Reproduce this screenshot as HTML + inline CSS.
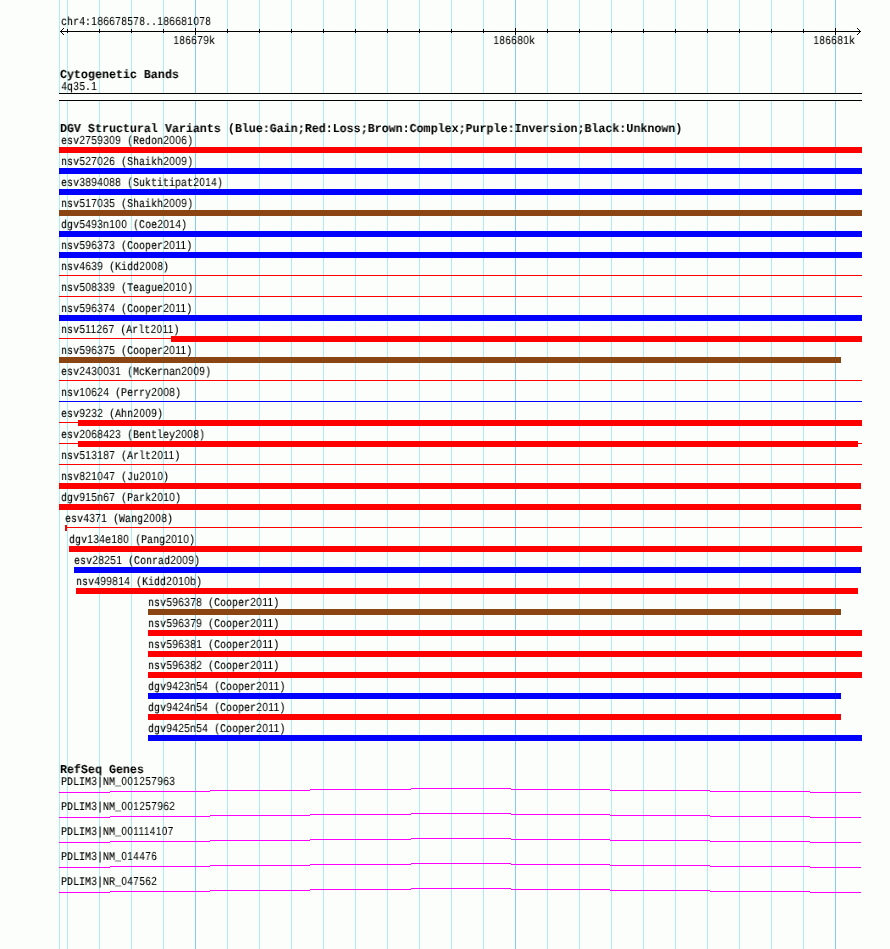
<!DOCTYPE html>
<html lang="en"><head><meta charset="utf-8"><title>chr4:186678578..186681078</title>
<style>
html,body{margin:0;padding:0;background:#fcfefb;}
body{width:890px;height:949px;position:relative;overflow:hidden;font-family:"Liberation Mono",monospace;}
.r{position:absolute}
.x{position:absolute;white-space:pre;color:#000;transform-origin:0 0;font-style:normal;text-rendering:geometricPrecision;will-change:transform}
.s{font-weight:normal;font-size:11.8px;line-height:14px;margin-top:-2px;transform:scaleX(.8475);-webkit-text-stroke:.15px #000}
.s span{text-decoration:none;font-family:"Liberation Sans",sans-serif;font-size:11.63px;letter-spacing:.612px;margin-left:.4px;margin-right:-.4px;-webkit-text-stroke:.08px #000}
.t{font-weight:bold;font-size:12.14px;line-height:14px;margin-top:-2px;transform:scaleX(.961);-webkit-text-stroke:.04px #000}
</style></head>
<body>
<div class="r" style="left:59px;top:0px;width:1px;height:949px;background:#afeeee"></div>
<div class="r" style="left:67px;top:0px;width:1px;height:949px;background:#afeeee"></div>
<div class="r" style="left:99px;top:0px;width:1px;height:949px;background:#afeeee"></div>
<div class="r" style="left:131px;top:0px;width:1px;height:949px;background:#afeeee"></div>
<div class="r" style="left:163px;top:0px;width:1px;height:949px;background:#afeeee"></div>
<div class="r" style="left:195px;top:0px;width:1px;height:949px;background:#87ceeb"></div>
<div class="r" style="left:227px;top:0px;width:1px;height:949px;background:#afeeee"></div>
<div class="r" style="left:259px;top:0px;width:1px;height:949px;background:#afeeee"></div>
<div class="r" style="left:291px;top:0px;width:1px;height:949px;background:#afeeee"></div>
<div class="r" style="left:323px;top:0px;width:1px;height:949px;background:#afeeee"></div>
<div class="r" style="left:355px;top:0px;width:1px;height:949px;background:#afeeee"></div>
<div class="r" style="left:387px;top:0px;width:1px;height:949px;background:#afeeee"></div>
<div class="r" style="left:419px;top:0px;width:1px;height:949px;background:#afeeee"></div>
<div class="r" style="left:451px;top:0px;width:1px;height:949px;background:#afeeee"></div>
<div class="r" style="left:483px;top:0px;width:1px;height:949px;background:#afeeee"></div>
<div class="r" style="left:515px;top:0px;width:1px;height:949px;background:#87ceeb"></div>
<div class="r" style="left:547px;top:0px;width:1px;height:949px;background:#afeeee"></div>
<div class="r" style="left:579px;top:0px;width:1px;height:949px;background:#afeeee"></div>
<div class="r" style="left:611px;top:0px;width:1px;height:949px;background:#afeeee"></div>
<div class="r" style="left:643px;top:0px;width:1px;height:949px;background:#afeeee"></div>
<div class="r" style="left:675px;top:0px;width:1px;height:949px;background:#afeeee"></div>
<div class="r" style="left:707px;top:0px;width:1px;height:949px;background:#afeeee"></div>
<div class="r" style="left:739px;top:0px;width:1px;height:949px;background:#afeeee"></div>
<div class="r" style="left:771px;top:0px;width:1px;height:949px;background:#afeeee"></div>
<div class="r" style="left:803px;top:0px;width:1px;height:949px;background:#afeeee"></div>
<div class="r" style="left:835px;top:0px;width:1px;height:949px;background:#87ceeb"></div>
<div class="r" style="left:60px;top:31px;width:801px;height:1px;background:#000"></div>
<div class="r" style="left:67px;top:29px;width:1px;height:4px;background:#000"></div>
<div class="r" style="left:99px;top:29px;width:1px;height:4px;background:#000"></div>
<div class="r" style="left:131px;top:29px;width:1px;height:4px;background:#000"></div>
<div class="r" style="left:163px;top:29px;width:1px;height:4px;background:#000"></div>
<div class="r" style="left:195px;top:28px;width:1px;height:7px;background:#000"></div>
<div class="r" style="left:227px;top:29px;width:1px;height:4px;background:#000"></div>
<div class="r" style="left:259px;top:29px;width:1px;height:4px;background:#000"></div>
<div class="r" style="left:291px;top:29px;width:1px;height:4px;background:#000"></div>
<div class="r" style="left:323px;top:29px;width:1px;height:4px;background:#000"></div>
<div class="r" style="left:355px;top:29px;width:1px;height:4px;background:#000"></div>
<div class="r" style="left:387px;top:29px;width:1px;height:4px;background:#000"></div>
<div class="r" style="left:419px;top:29px;width:1px;height:4px;background:#000"></div>
<div class="r" style="left:451px;top:29px;width:1px;height:4px;background:#000"></div>
<div class="r" style="left:483px;top:29px;width:1px;height:4px;background:#000"></div>
<div class="r" style="left:515px;top:28px;width:1px;height:7px;background:#000"></div>
<div class="r" style="left:547px;top:29px;width:1px;height:4px;background:#000"></div>
<div class="r" style="left:579px;top:29px;width:1px;height:4px;background:#000"></div>
<div class="r" style="left:611px;top:29px;width:1px;height:4px;background:#000"></div>
<div class="r" style="left:643px;top:29px;width:1px;height:4px;background:#000"></div>
<div class="r" style="left:675px;top:29px;width:1px;height:4px;background:#000"></div>
<div class="r" style="left:707px;top:29px;width:1px;height:4px;background:#000"></div>
<div class="r" style="left:739px;top:29px;width:1px;height:4px;background:#000"></div>
<div class="r" style="left:771px;top:29px;width:1px;height:4px;background:#000"></div>
<div class="r" style="left:803px;top:29px;width:1px;height:4px;background:#000"></div>
<div class="r" style="left:835px;top:28px;width:1px;height:7px;background:#000"></div>
<div class="r" style="left:61px;top:30px;width:1px;height:1px;background:#000"></div>
<div class="r" style="left:61px;top:32px;width:1px;height:1px;background:#000"></div>
<div class="r" style="left:859px;top:30px;width:1px;height:1px;background:#000"></div>
<div class="r" style="left:859px;top:32px;width:1px;height:1px;background:#000"></div>
<div class="r" style="left:62px;top:29px;width:1px;height:1px;background:#000"></div>
<div class="r" style="left:62px;top:33px;width:1px;height:1px;background:#000"></div>
<div class="r" style="left:858px;top:29px;width:1px;height:1px;background:#000"></div>
<div class="r" style="left:858px;top:33px;width:1px;height:1px;background:#000"></div>
<div class="r" style="left:63px;top:28px;width:1px;height:1px;background:#000"></div>
<div class="r" style="left:63px;top:34px;width:1px;height:1px;background:#000"></div>
<div class="r" style="left:857px;top:28px;width:1px;height:1px;background:#000"></div>
<div class="r" style="left:857px;top:34px;width:1px;height:1px;background:#000"></div>
<div class="x s" style="left:60.5px;top:17px">chr<span>4</span>:<span>186678578</span>..<span>186681078</span></div>
<div class="x s" style="left:173.0px;top:36px"><span>186679</span>k</div>
<div class="x s" style="left:493.0px;top:36px"><span>186680</span>k</div>
<div class="x s" style="left:813.0px;top:36px"><span>186681</span>k</div>
<div class="x t" style="left:59.5px;top:70px">Cytogenetic Bands</div>
<div class="x s" style="left:60.5px;top:82px"><span>4</span>q<span>35</span>.<span>1</span></div>
<div class="r" style="left:59px;top:93px;width:803px;height:8px;background:#000"></div>
<div class="r" style="left:59px;top:94px;width:803px;height:6px;background:#fcfefb"></div>
<div class="x t" style="left:59.5px;top:124px">DGV Structural Variants (Blue:Gain;Red:Loss;Brown:Complex;Purple:Inversion;Black:Unknown)</div>
<div class="x s" style="left:60.5px;top:136px">esv<span>2759309</span> (Redon<span>2006</span>)</div>
<div class="r" style="left:59px;top:147px;width:803px;height:6px;background:#ff0000"></div>
<div class="x s" style="left:60.5px;top:157px">nsv<span>527026</span> (Shaikh<span>2009</span>)</div>
<div class="r" style="left:59px;top:168px;width:803px;height:6px;background:#0000ff"></div>
<div class="x s" style="left:60.5px;top:178px">esv<span>3894088</span> (Suktitipat<span>2014</span>)</div>
<div class="r" style="left:59px;top:189px;width:803px;height:6px;background:#0000ff"></div>
<div class="x s" style="left:60.5px;top:199px">nsv<span>517035</span> (Shaikh<span>2009</span>)</div>
<div class="r" style="left:59px;top:210px;width:803px;height:6px;background:#8b4513"></div>
<div class="x s" style="left:60.5px;top:220px">dgv<span>5493</span>n<span>100</span> (Coe<span>2014</span>)</div>
<div class="r" style="left:59px;top:231px;width:803px;height:6px;background:#0000ff"></div>
<div class="x s" style="left:60.5px;top:241px">nsv<span>596373</span> (Cooper<span>2011</span>)</div>
<div class="r" style="left:59px;top:252px;width:803px;height:6px;background:#0000ff"></div>
<div class="x s" style="left:60.5px;top:262px">nsv<span>4639</span> (Kidd<span>2008</span>)</div>
<div class="r" style="left:59px;top:275px;width:803px;height:1px;background:#ff0000"></div>
<div class="x s" style="left:60.5px;top:283px">nsv<span>508339</span> (Teague<span>2010</span>)</div>
<div class="r" style="left:59px;top:296px;width:803px;height:1px;background:#ff0000"></div>
<div class="x s" style="left:60.5px;top:304px">nsv<span>596374</span> (Cooper<span>2011</span>)</div>
<div class="r" style="left:59px;top:315px;width:803px;height:6px;background:#0000ff"></div>
<div class="x s" style="left:60.5px;top:325px">nsv<span>511267</span> (Arlt<span>2011</span>)</div>
<div class="r" style="left:59px;top:338px;width:803px;height:1px;background:#ff0000"></div>
<div class="r" style="left:171px;top:336px;width:691px;height:6px;background:#ff0000"></div>
<div class="x s" style="left:60.5px;top:346px">nsv<span>596375</span> (Cooper<span>2011</span>)</div>
<div class="r" style="left:59px;top:357px;width:782px;height:6px;background:#8b4513"></div>
<div class="x s" style="left:60.5px;top:367px">esv<span>2430031</span> (McKernan<span>2009</span>)</div>
<div class="r" style="left:59px;top:380px;width:803px;height:1px;background:#ff0000"></div>
<div class="x s" style="left:60.5px;top:388px">nsv<span>10624</span> (Perry<span>2008</span>)</div>
<div class="r" style="left:59px;top:401px;width:803px;height:1px;background:#0000ff"></div>
<div class="x s" style="left:60.5px;top:409px">esv<span>9232</span> (Ahn<span>2009</span>)</div>
<div class="r" style="left:59px;top:422px;width:803px;height:1px;background:#ff0000"></div>
<div class="r" style="left:78px;top:420px;width:784px;height:6px;background:#ff0000"></div>
<div class="x s" style="left:60.5px;top:430px">esv<span>2068423</span> (Bentley<span>2008</span>)</div>
<div class="r" style="left:59px;top:443px;width:803px;height:1px;background:#ff0000"></div>
<div class="r" style="left:78px;top:441px;width:780px;height:6px;background:#ff0000"></div>
<div class="x s" style="left:60.5px;top:451px">nsv<span>513187</span> (Arlt<span>2011</span>)</div>
<div class="r" style="left:59px;top:464px;width:803px;height:1px;background:#ff0000"></div>
<div class="x s" style="left:60.5px;top:472px">nsv<span>821047</span> (Ju<span>2010</span>)</div>
<div class="r" style="left:59px;top:483px;width:802px;height:6px;background:#ff0000"></div>
<div class="x s" style="left:60.5px;top:493px">dgv<span>915</span>n<span>67</span> (Park<span>2010</span>)</div>
<div class="r" style="left:59px;top:504px;width:802px;height:6px;background:#ff0000"></div>
<div class="x s" style="left:64.5px;top:514px">esv<span>4371</span> (Wang<span>2008</span>)</div>
<div class="r" style="left:65px;top:527px;width:797px;height:1px;background:#ff0000"></div>
<div class="r" style="left:65px;top:525px;width:2px;height:6px;background:#ff0000"></div>
<div class="x s" style="left:68.5px;top:535px">dgv<span>134</span>e<span>180</span> (Pang<span>2010</span>)</div>
<div class="r" style="left:69px;top:546px;width:793px;height:6px;background:#ff0000"></div>
<div class="x s" style="left:73.5px;top:556px">esv<span>28251</span> (Conrad<span>2009</span>)</div>
<div class="r" style="left:74px;top:567px;width:787px;height:6px;background:#0000ff"></div>
<div class="x s" style="left:75.5px;top:577px">nsv<span>499814</span> (Kidd<span>2010</span>b)</div>
<div class="r" style="left:76px;top:588px;width:782px;height:6px;background:#ff0000"></div>
<div class="x s" style="left:147.5px;top:598px">nsv<span>596378</span> (Cooper<span>2011</span>)</div>
<div class="r" style="left:148px;top:609px;width:693px;height:6px;background:#8b4513"></div>
<div class="x s" style="left:147.5px;top:619px">nsv<span>596379</span> (Cooper<span>2011</span>)</div>
<div class="r" style="left:148px;top:630px;width:714px;height:6px;background:#ff0000"></div>
<div class="x s" style="left:147.5px;top:640px">nsv<span>596381</span> (Cooper<span>2011</span>)</div>
<div class="r" style="left:148px;top:651px;width:714px;height:6px;background:#ff0000"></div>
<div class="x s" style="left:147.5px;top:661px">nsv<span>596382</span> (Cooper<span>2011</span>)</div>
<div class="r" style="left:148px;top:672px;width:714px;height:6px;background:#ff0000"></div>
<div class="x s" style="left:147.5px;top:682px">dgv<span>9423</span>n<span>54</span> (Cooper<span>2011</span>)</div>
<div class="r" style="left:148px;top:693px;width:693px;height:6px;background:#0000ff"></div>
<div class="x s" style="left:147.5px;top:703px">dgv<span>9424</span>n<span>54</span> (Cooper<span>2011</span>)</div>
<div class="r" style="left:148px;top:714px;width:693px;height:6px;background:#ff0000"></div>
<div class="x s" style="left:147.5px;top:724px">dgv<span>9425</span>n<span>54</span> (Cooper<span>2011</span>)</div>
<div class="r" style="left:148px;top:735px;width:714px;height:6px;background:#0000ff"></div>
<div class="x t" style="left:59.5px;top:765px">RefSeq Genes</div>
<div class="x s" style="left:60.5px;top:777px">PDLIM<span>3</span>|NM_<span>001257963</span></div>
<div class="r" style="left:59px;top:792px;width:51px;height:1px;background:#ff00ff"></div>
<div class="r" style="left:110px;top:791px;width:100px;height:1px;background:#ff00ff"></div>
<div class="r" style="left:210px;top:790px;width:100px;height:1px;background:#ff00ff"></div>
<div class="r" style="left:310px;top:789px;width:101px;height:1px;background:#ff00ff"></div>
<div class="r" style="left:411px;top:788px;width:100px;height:1px;background:#ff00ff"></div>
<div class="r" style="left:511px;top:789px;width:99px;height:1px;background:#ff00ff"></div>
<div class="r" style="left:610px;top:790px;width:100px;height:1px;background:#ff00ff"></div>
<div class="r" style="left:710px;top:791px;width:100px;height:1px;background:#ff00ff"></div>
<div class="r" style="left:810px;top:792px;width:51px;height:1px;background:#ff00ff"></div>
<div class="x s" style="left:60.5px;top:802px">PDLIM<span>3</span>|NM_<span>001257962</span></div>
<div class="r" style="left:59px;top:817px;width:51px;height:1px;background:#ff00ff"></div>
<div class="r" style="left:110px;top:816px;width:100px;height:1px;background:#ff00ff"></div>
<div class="r" style="left:210px;top:815px;width:100px;height:1px;background:#ff00ff"></div>
<div class="r" style="left:310px;top:814px;width:101px;height:1px;background:#ff00ff"></div>
<div class="r" style="left:411px;top:813px;width:100px;height:1px;background:#ff00ff"></div>
<div class="r" style="left:511px;top:814px;width:99px;height:1px;background:#ff00ff"></div>
<div class="r" style="left:610px;top:815px;width:100px;height:1px;background:#ff00ff"></div>
<div class="r" style="left:710px;top:816px;width:100px;height:1px;background:#ff00ff"></div>
<div class="r" style="left:810px;top:817px;width:51px;height:1px;background:#ff00ff"></div>
<div class="x s" style="left:60.5px;top:827px">PDLIM<span>3</span>|NM_<span>001114107</span></div>
<div class="r" style="left:59px;top:842px;width:51px;height:1px;background:#ff00ff"></div>
<div class="r" style="left:110px;top:841px;width:100px;height:1px;background:#ff00ff"></div>
<div class="r" style="left:210px;top:840px;width:100px;height:1px;background:#ff00ff"></div>
<div class="r" style="left:310px;top:839px;width:101px;height:1px;background:#ff00ff"></div>
<div class="r" style="left:411px;top:838px;width:100px;height:1px;background:#ff00ff"></div>
<div class="r" style="left:511px;top:839px;width:99px;height:1px;background:#ff00ff"></div>
<div class="r" style="left:610px;top:840px;width:100px;height:1px;background:#ff00ff"></div>
<div class="r" style="left:710px;top:841px;width:100px;height:1px;background:#ff00ff"></div>
<div class="r" style="left:810px;top:842px;width:51px;height:1px;background:#ff00ff"></div>
<div class="x s" style="left:60.5px;top:852px">PDLIM<span>3</span>|NM_<span>014476</span></div>
<div class="r" style="left:59px;top:867px;width:51px;height:1px;background:#ff00ff"></div>
<div class="r" style="left:110px;top:866px;width:100px;height:1px;background:#ff00ff"></div>
<div class="r" style="left:210px;top:865px;width:100px;height:1px;background:#ff00ff"></div>
<div class="r" style="left:310px;top:864px;width:101px;height:1px;background:#ff00ff"></div>
<div class="r" style="left:411px;top:863px;width:100px;height:1px;background:#ff00ff"></div>
<div class="r" style="left:511px;top:864px;width:99px;height:1px;background:#ff00ff"></div>
<div class="r" style="left:610px;top:865px;width:100px;height:1px;background:#ff00ff"></div>
<div class="r" style="left:710px;top:866px;width:100px;height:1px;background:#ff00ff"></div>
<div class="r" style="left:810px;top:867px;width:51px;height:1px;background:#ff00ff"></div>
<div class="x s" style="left:60.5px;top:877px">PDLIM<span>3</span>|NR_<span>047562</span></div>
<div class="r" style="left:59px;top:892px;width:51px;height:1px;background:#ff00ff"></div>
<div class="r" style="left:110px;top:891px;width:100px;height:1px;background:#ff00ff"></div>
<div class="r" style="left:210px;top:890px;width:100px;height:1px;background:#ff00ff"></div>
<div class="r" style="left:310px;top:889px;width:101px;height:1px;background:#ff00ff"></div>
<div class="r" style="left:411px;top:888px;width:100px;height:1px;background:#ff00ff"></div>
<div class="r" style="left:511px;top:889px;width:99px;height:1px;background:#ff00ff"></div>
<div class="r" style="left:610px;top:890px;width:100px;height:1px;background:#ff00ff"></div>
<div class="r" style="left:710px;top:891px;width:100px;height:1px;background:#ff00ff"></div>
<div class="r" style="left:810px;top:892px;width:51px;height:1px;background:#ff00ff"></div>
</body></html>
